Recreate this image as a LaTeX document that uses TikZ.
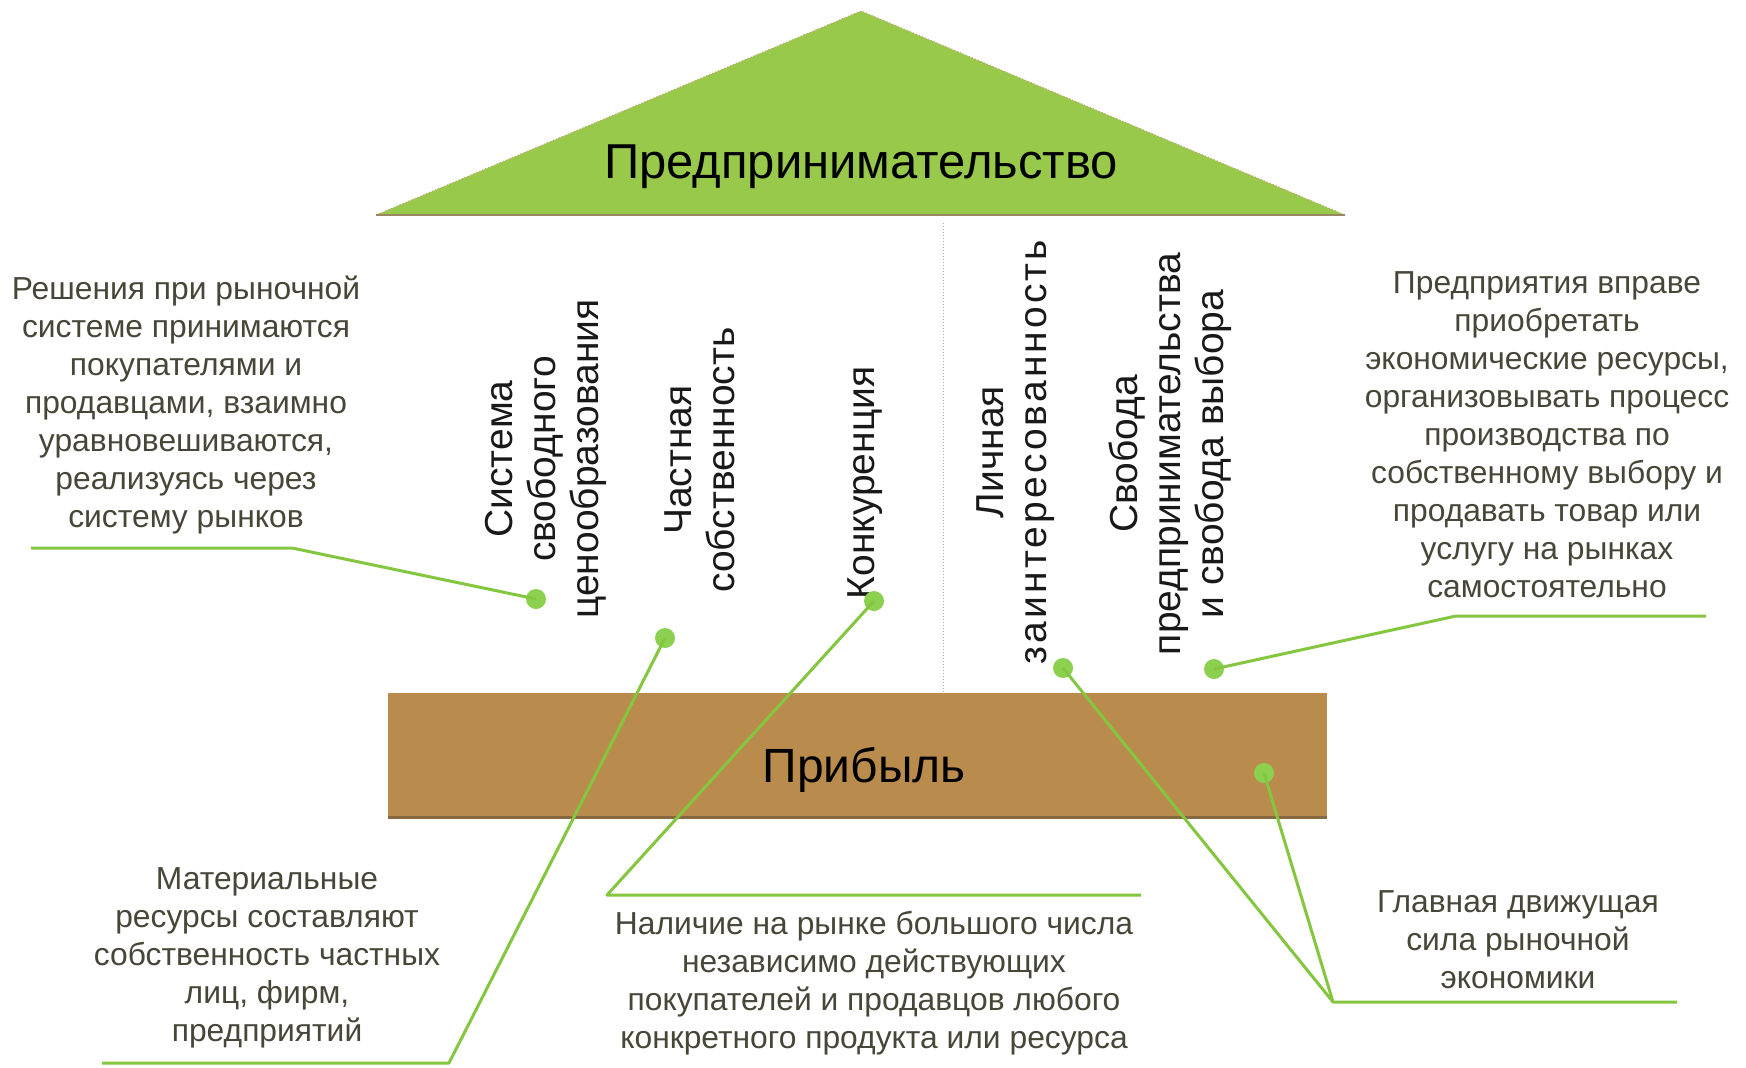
\documentclass[tikz,border=0pt]{standalone}
\usepackage{fontspec}
\setmainfont{Liberation Sans}
\definecolor{roofgreen}{RGB}{152,201,74}
\definecolor{roofedge}{RGB}{190,170,120}
\definecolor{profit}{RGB}{185,140,78}
\definecolor{profitdark}{RGB}{135,105,65}
\definecolor{callgreen}{RGB}{132,198,64}
\definecolor{dotgreen}{RGB}{140,208,80}
\definecolor{txt}{RGB}{72,70,56}
\begin{document}
\begin{tikzpicture}[x=0.5pt,y=-0.5pt,
  pillar/.style={rotate=90, align=center, font=\fontsize{19.5}{21.5}\selectfont, text=black!90, inner sep=0pt},
  note/.style={align=center, font=\fontsize{15.9}{19}\selectfont, text=txt, inner sep=0pt},
  dot/.style={circle, fill=dotgreen, minimum size=10pt, inner sep=0pt},
  callout/.style={draw=callgreen, line width=1.5pt, line join=round},
]
\useasboundingbox (0,0) rectangle (1746,1067);
\fill[white] (0,0) rectangle (1746,1067);

% roof
\coordinate (apex) at (861,11);
\coordinate (bl) at (376,215);
\coordinate (br) at (1345,215);
\fill[roofgreen] (apex) -- (br) -- (bl) -- cycle;
\draw[roofedge, line width=0.6pt, densely dotted] (bl) -- (apex) -- (br);
\draw[roofedge!80!black, line width=0.8pt] (bl) -- (br);
\node[font=\fontsize{24.5}{28}\selectfont, text=black] (title) at (861,167) {Предпринимательство};

% divider
\coordinate (divtop) at (943,223);
\coordinate (divbot) at (943,692);
\draw[gray!70, densely dotted, line width=0.5pt] (divtop) -- (divbot);

% profit bar
\fill[profit] (388,693) rectangle (1327,818);
\draw[profitdark, line width=1.5pt] (388,817) -- (1327,817);
\node[font=\fontsize{24}{28}\selectfont, text=black] (profit) at (864,770) {Прибыль};

% pillars
\node[pillar] (sys) at (546,459) {Система\\свободного\\ценообразования};
\node[pillar] (priv) at (700,460) {Частная\\собственность};
\node[pillar] (konk) at (865,483) {Конкуренция};
\node[pillar] (lich) at (1016,452) {Личная\\{\addfontfeature{LetterSpace=8}заинтересованность}};
\node[pillar] (svob) at (1170,454) {Свобода\\предпринимательства\\и свобода выбора};

% notes
\node[note] (n1) at (186,405) {Решения при рыночной\\системе принимаются\\покупателями и\\продавцами, взаимно\\уравновешиваются,\\реализуясь через\\систему рынков};
\node[note] (n2) at (267,958) {Материальные\\ресурсы составляют\\собственность частных\\лиц, фирм,\\предприятий};
\node[note] (n3) at (874,983) {Наличие на рынке большого числа\\независимо действующих\\покупателей и продавцов любого\\конкретного продукта или ресурса};
\node[note] (n4) at (1547,435) {Предприятия вправе\\приобретать\\экономические ресурсы,\\организовывать процесс\\производства по\\собственному выбору и\\продавать товар или\\услугу на рынках\\самостоятельно};
\node[note] (n5) at (1518,940) {Главная движущая\\сила рыночной\\экономики};

% dots
\node[dot] (d1) at (536,599) {};
\node[dot] (d2) at (665,638) {};
\node[dot] (d3) at (874,601) {};
\node[dot] (d4) at (1063,668) {};
\node[dot] (d5) at (1214,669) {};
\node[dot] (d6) at (1264,773) {};

% callout corners
\coordinate (c1a) at (31,548);
\coordinate (c1b) at (292,548);
\coordinate (c2a) at (102,1063);
\coordinate (c2b) at (449,1063);
\coordinate (c3a) at (607,895);
\coordinate (c3b) at (1141,895);
\coordinate (c4a) at (1456,616);
\coordinate (c4b) at (1706,616);
\coordinate (c5a) at (1333,1002);
\coordinate (c5b) at (1677,1002);

% callouts
\draw[callout] (c1a) -- (c1b) -- (d1.center);
\draw[callout] (c2a) -- (c2b) -- (d2.center);
\draw[callout] (c3b) -- (c3a) -- (d3.center);
\draw[callout] (c4b) -- (c4a) -- (d5.center);
\draw[callout] (c5b) -- (c5a) -- (d4.center);
\draw[callout] (c5a) -- (d6.center);
\end{tikzpicture}
\end{document}
